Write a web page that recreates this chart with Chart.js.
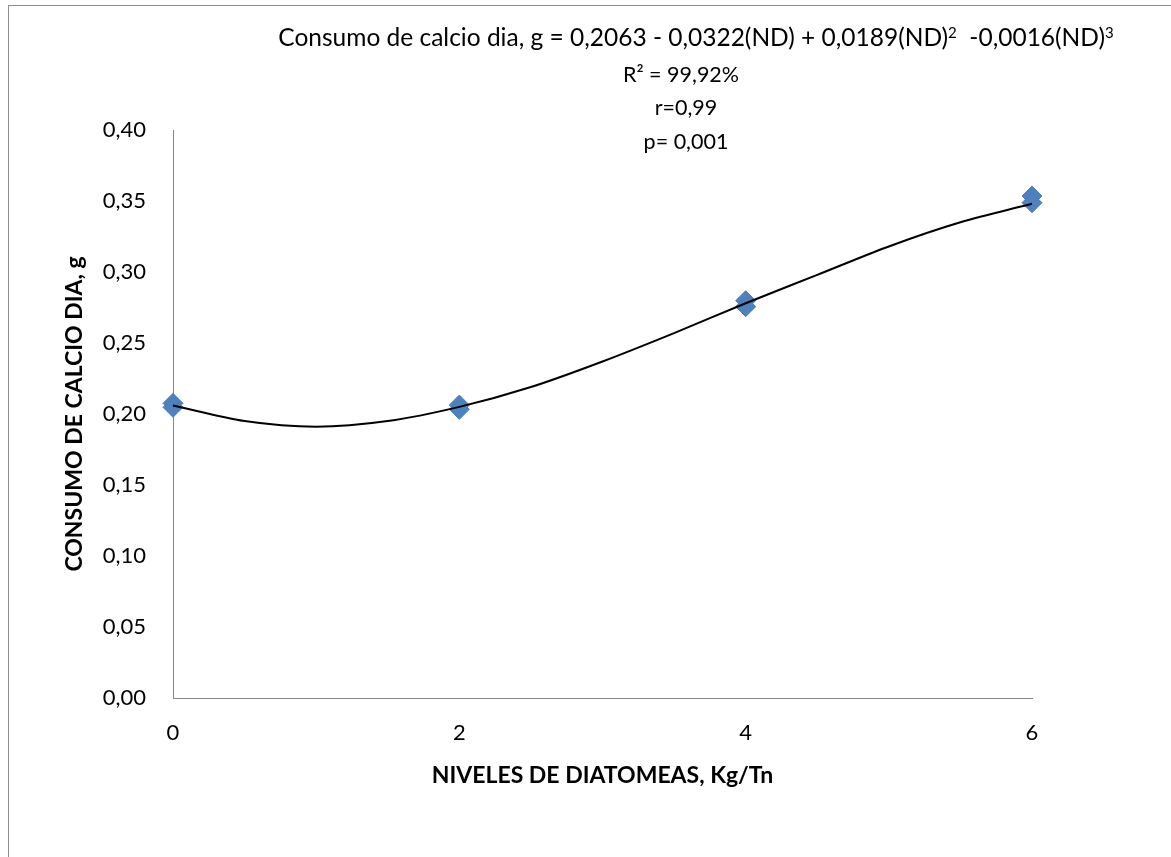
<!DOCTYPE html>
<html lang="es">
<head>
  <meta charset="UTF-8">
  <title>Consumo de calcio dia</title>
  <script src="https://cdn.jsdelivr.net/npm/chart.js"></script>
  <style>
    html, body { margin: 0; padding: 0; width: 1171px; height: 857px; overflow: hidden; background: #fff; }
    #marco { position: absolute; left: 8px; top: 5px; width: 1300px; height: 1000px; border: 1px solid #8c8c8c; }
    #grafico { position: absolute; left: 0; top: 0; }
    .ecuacion { position: absolute; font-family: Lato, sans-serif; font-size: 21.5px; color: #000; white-space: nowrap; text-align: center; transform: translateX(-50%); line-height: 1; }
    .ecuacion sup { font-size: 15px; vertical-align: 8px; }
  </style>
</head>
<body>
<div id="marco"></div>
<canvas id="grafico" width="1171" height="857"></canvas>

<div class="ecuacion" style="left:696px; top:25px; font-size:24.5px;">Consumo de calcio dia, g = 0,2063 - 0,0322(ND) + 0,0189(ND)<sup>2</sup>&nbsp; -0,0016(ND)<sup>3</sup></div>
<div class="ecuacion" style="left:681px; top:64px;">R² = 99,92%</div>
<div class="ecuacion" style="left:686px; top:97px;">r=0,99</div>
<div class="ecuacion" style="left:686px; top:131px;">p= 0,001</div>

<script>
  // Datos observados (niveles de diatomeas, kg/Tn)
  const nivelesX = [0, 0, 2, 2, 4, 4, 6, 6];
  const consumoY = [0.2075, 0.2047, 0.2063, 0.2033, 0.2798, 0.2756, 0.3535, 0.3488];

  // Línea de tendencia
  const tendenciaX = [0, 0.5, 1, 1.5, 2, 2.5, 3, 3.5, 4, 4.5, 5, 5.5, 6];
  const tendenciaY = [0.206, 0.195, 0.191, 0.195, 0.205, 0.219, 0.237, 0.257, 0.278, 0.298, 0.318, 0.335, 0.348];

  // Etiquetas de los ejes
  const etiquetasX = ['0', '2', '4', '6'];
  const etiquetasY = ['0,00', '0,05', '0,10', '0,15', '0,20', '0,25', '0,30', '0,35', '0,40'];

  const puntos = nivelesX.map((x, i) => ({ x: x, y: consumoY[i] }));
  const curva = tendenciaX.map((x, i) => ({ x: x, y: tendenciaY[i] }));

  const colorEje = '#868686';
  const fuenteTicks = { family: 'Lato', size: 22 };
  const fuenteTitulo = { family: 'Lato', size: 23, weight: 'bold' };

  new Chart(document.getElementById('grafico'), {
    type: 'scatter',
    data: {
      datasets: [
        {
          label: 'Tendencia',
          data: curva,
          showLine: true,
          borderColor: '#000',
          borderWidth: 2,
          pointRadius: 0,
          cubicInterpolationMode: 'monotone',
          clip: false
        },
        {
          label: 'Consumo de calcio dia',
          data: puntos,
          pointStyle: 'rectRot',
          pointRadius: 10,
          backgroundColor: '#4f81bd',
          borderColor: '#4a7ebb',
          borderWidth: 1,
          clip: false
        }
      ]
    },
    options: {
      responsive: false,
      animation: false,
      layout: { padding: { left: 0, right: 139, top: 130, bottom: 0 } },
      plugins: { legend: { display: false }, tooltip: { enabled: false } },
      scales: {
        x: {
          type: 'linear',
          min: 0,
          max: 6,
          grid: { display: false },
          border: { color: colorEje, width: 1 },
          ticks: {
            stepSize: 2,
            padding: 14,
            color: '#000',
            font: fuenteTicks,
            callback: (v, i) => etiquetasX[i]
          },
          title: {
            display: true,
            text: 'NIVELES DE DIATOMEAS, Kg/Tn',
            color: '#000',
            font: fuenteTitulo,
            padding: { top: 0, bottom: 68 }
          },
          afterFit: (s) => { s.height = 159; }
        },
        y: {
          min: 0,
          max: 0.4,
          grid: { display: false },
          border: { color: colorEje, width: 1 },
          ticks: {
            stepSize: 0.05,
            padding: 19,
            color: '#000',
            font: fuenteTicks,
            callback: (v, i) => etiquetasY[i]
          },
          title: {
            display: true,
            text: 'CONSUMO DE CALCIO DIA, g',
            color: '#000',
            font: fuenteTitulo,
            padding: { top: 61, bottom: 0 }
          },
          afterFit: (s) => { s.width = 173; }
        }
      }
    }
  });
</script>
</body>
</html>
